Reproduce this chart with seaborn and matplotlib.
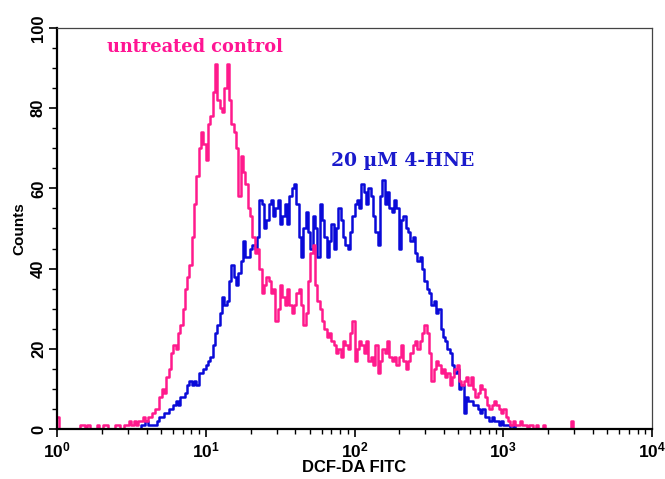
import numpy as np
import matplotlib
matplotlib.use("Agg")
import matplotlib.pyplot as plt
from matplotlib.ticker import FixedLocator, MultipleLocator, LogLocator, NullFormatter
import seaborn as sns

# 256 log-spaced channels spanning four decades of fluorescence
n_channels = 256
decades = 4

# Events per channel, untreated control
control_counts = [
    3, 0, 0, 0, 0, 0, 0, 0, 0, 0,
    1, 1, 0, 1, 0, 0, 0, 1, 0, 0,
    1, 1, 0, 0, 0, 1, 1, 0, 0, 1,
    1, 2, 1, 2, 1, 2, 2, 3, 2, 3,
    3, 4, 5, 5, 8, 10, 9, 13, 15, 19,
    21, 20, 24, 26, 30, 35, 38, 41, 48, 56,
    63, 70, 74, 71, 67, 76, 78, 84, 91, 82,
    80, 79, 85, 91, 82, 76, 74, 70, 58, 68,
    64, 61, 55, 53, 48, 44, 45, 40, 34, 36,
    38, 37, 34, 35, 27, 30, 36, 33, 31, 35,
    31, 29, 31, 34, 35, 31, 26, 29, 37, 44,
    46, 36, 32, 30, 27, 25, 23, 24, 22, 21,
    19, 20, 18, 22, 21, 20, 24, 27, 17, 20,
    22, 21, 19, 22, 17, 18, 16, 21, 14, 17,
    20, 19, 22, 18, 17, 18, 16, 18, 21, 17,
    15, 17, 19, 21, 22, 20, 22, 24, 26, 24,
    19, 12, 15, 17, 16, 14, 15, 13, 14, 11,
    13, 15, 16, 12, 11, 12, 13, 11, 13, 10,
    8, 9, 11, 10, 8, 6, 5, 6, 7, 6,
    5, 4, 5, 3, 2, 1, 2, 1, 1, 2,
    1, 1, 0, 1, 1, 0, 1, 0, 0, 1,
    0, 0, 0, 0, 0, 0, 0, 0, 0, 0,
    0, 2, 0, 0, 0, 0, 0, 0, 0, 0,
] + [0] * 26

# Events per channel, cells treated with 20 uM 4-HNE
hne_counts = [0] * 36 + [
    1, 1, 2, 1,
    1, 1, 1, 2, 3, 3, 4, 4, 5, 5,
    6, 7, 6, 8, 8, 9, 11, 12, 11, 12,
    11, 14, 14, 15, 16, 17, 18, 21, 24, 26,
    29, 33, 31, 32, 37, 41, 38, 36, 39, 42,
    47, 43, 43, 45, 46, 45, 48, 57, 56, 50,
    52, 56, 57, 53, 55, 57, 51, 53, 56, 51,
    58, 60, 61, 56, 48, 43, 50, 54, 49, 45,
    53, 50, 43, 56, 52, 48, 43, 47, 51, 45,
    50, 55, 52, 48, 46, 45, 49, 53, 56, 57,
    55, 61, 59, 56, 60, 58, 53, 49, 46, 58,
    62, 56, 59, 55, 54, 57, 55, 45, 52, 53,
    50, 49, 47, 48, 44, 42, 43, 40, 37, 35,
    34, 31, 32, 29, 30, 25, 23, 22, 20, 19,
    16, 14, 15, 10, 11, 4, 8, 7, 7, 6,
    6, 5, 4, 5, 3, 3, 2, 3, 2, 2,
    1, 2, 1, 1, 1, 0, 1, 0, 0, 0,
] + [0] * 56

series_labels = ["untreated control", "20 \u00b5M 4-HNE"]
x_label = "DCF-DA FITC"
y_label = "Counts"
y_ticks = [0, 20, 40, 60, 80, 100]
x_ticks = [1, 10, 100, 1000, 10000]
x_tick_labels = [r"$\mathbf{10^{0}}$", r"$\mathbf{10^{1}}$", r"$\mathbf{10^{2}}$",
                 r"$\mathbf{10^{3}}$", r"$\mathbf{10^{4}}$"]

pink = "#ff1a8c"
blue = "#0a0ad8"

sns.set_theme(style="white")
plt.rcParams["font.family"] = ["Liberation Sans", "DejaVu Sans"]
plt.rcParams["mathtext.fontset"] = "custom"
plt.rcParams["mathtext.bf"] = "Liberation Sans:bold"
plt.rcParams["mathtext.rm"] = "Liberation Sans"
for key in ["text.color", "axes.labelcolor", "xtick.color", "ytick.color"]:
    plt.rcParams[key] = "black"

fig = plt.figure(figsize=(6.65, 4.79), dpi=100)
ax = fig.add_axes([0.0857, 0.1044, 0.8948, 0.8372])

# channel edges on the instrument's log scale
edges = 10 ** (np.arange(n_channels + 1) * decades / n_channels)

for counts, color in [(hne_counts, blue), (control_counts, pink)]:
    y = np.append(np.asarray(counts, dtype=float), counts[-1])
    sns.lineplot(x=edges, y=y, color=color, linewidth=1.8,
                 drawstyle="steps-post", estimator=None, sort=False, ax=ax)

ax.set_xscale("log")
ax.set_xlim(1, 1e4)
ax.set_ylim(0, 100)

ax.xaxis.set_major_locator(FixedLocator(x_ticks))
ax.set_xticklabels(x_tick_labels)
ax.xaxis.set_minor_locator(LogLocator(base=10, subs=np.arange(2, 10)))
ax.xaxis.set_minor_formatter(NullFormatter())
ax.yaxis.set_major_locator(FixedLocator(y_ticks))
ax.yaxis.set_minor_locator(MultipleLocator(5))
ax.set_yticklabels([str(v) for v in y_ticks], rotation=90, va="center",
                   fontsize=12, fontweight="bold", color="black")
for lab in ax.get_xticklabels():
    lab.set_fontsize(12.5)
    lab.set_color("black")

ax.tick_params(axis="both", which="major", direction="out", length=6, width=1.2,
               color="black", bottom=True, left=True, pad=2)
ax.tick_params(axis="both", which="minor", direction="out", length=3.5, width=1.0,
               color="black", bottom=True, left=True)
ax.tick_params(axis="y", which="major", pad=2)

for side in ["left", "bottom"]:
    ax.spines[side].set_color("black")
    ax.spines[side].set_linewidth(1.6)
for side in ["top", "right"]:
    ax.spines[side].set_color("#444444")
    ax.spines[side].set_linewidth(0.9)

ax.set_xlabel(x_label, fontsize=12, fontweight="bold", labelpad=0, color="black")
ax.set_ylabel(y_label, fontsize=11, fontweight="bold", labelpad=3, color="black")

ax.text(8.5, 95.3, series_labels[0], color="#ff1493", fontsize=12.8,
        fontweight="bold", family="DejaVu Serif", ha="center", va="center")
ax.text(212, 66.8, series_labels[1], color="#1a1acc", fontsize=13.5,
        fontweight="bold", family="DejaVu Serif", ha="center", va="center")

fig.savefig("out.png", dpi=100)
